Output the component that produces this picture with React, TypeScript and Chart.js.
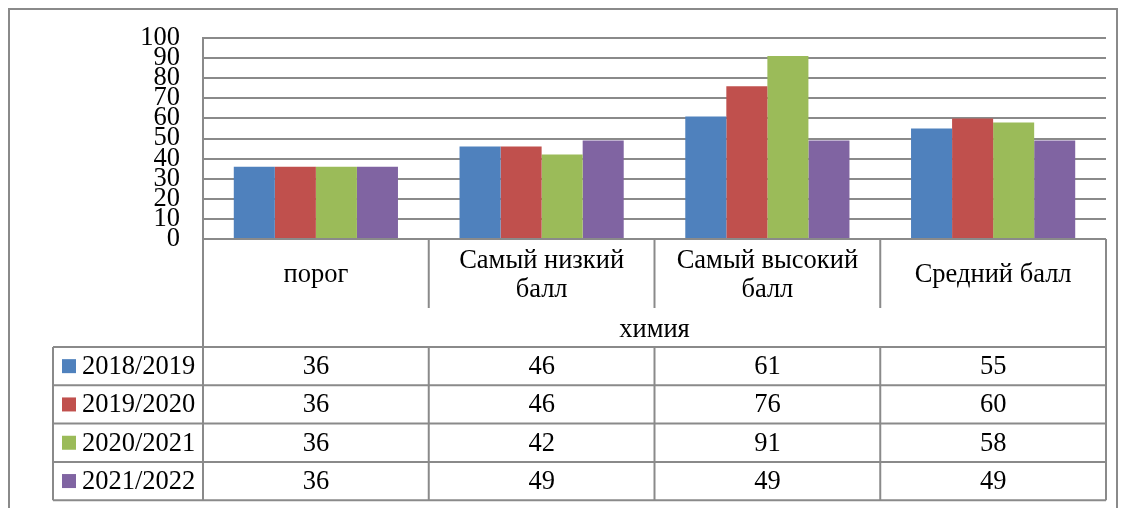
import React, { useEffect, useRef } from "react";
import { Chart, registerables } from "chart.js";

Chart.register(...registerables);

const categories: string[][] = [["порог"], ["Самый низкий", "балл"], ["Самый высокий", "балл"], ["Средний балл"]];
const groupTitle = "химия";
const seriesNames = ["2018/2019", "2019/2020", "2020/2021", "2021/2022"];
const s2018 = [36, 46, 61, 55];
const s2019 = [36, 46, 76, 60];
const s2020 = [36, 42, 91, 58];
const s2021 = [36, 49, 49, 49];
const seriesValues = [s2018, s2019, s2020, s2021];
const seriesColors = ["#4F81BD", "#C0504D", "#9BBB59", "#8064A2"];
const yMin = 0;
const yMax = 100;
const yStep = 10;

const FONT = '"Liberation Serif", "Times New Roman", serif';
const FS = 26.5;
const LINE = "#8a8a8a";

const tablePlugin = {
  id: "dataTable",
  afterDraw(chart: any) {
    const ctx = chart.ctx as CanvasRenderingContext2D;
    const area = chart.chartArea;
    const xs = chart.scales.x;
    const n = categories.length;
    const colW = (area.right - area.left) / n;
    const edges = Array.from({ length: n + 1 }, (_, i) => area.left + i * colW);
    const catBottom = 308;
    const titleBottom = 347;
    const rowH = 38.3;
    const legendLeft = 53;
    const rowsY = seriesNames.map((_, i) => titleBottom + i * rowH);
    const tableBottom = titleBottom + seriesNames.length * rowH;

    ctx.save();
    ctx.strokeStyle = LINE;
    ctx.lineWidth = 2;
    const line = (x1: number, y1: number, x2: number, y2: number) => {
      ctx.beginPath();
      ctx.moveTo(x1, y1);
      ctx.lineTo(x2, y2);
      ctx.stroke();
    };
    ctx.strokeRect(9, 9, 1108, 600);
    line(area.left, area.bottom, area.right, area.bottom);
    line(area.left, area.top, area.left, tableBottom);
    for (let i = 1; i < n; i++) line(edges[i], area.bottom, edges[i], catBottom);
    line(area.right, area.bottom, area.right, tableBottom);
    for (let r = 0; r <= seriesNames.length; r++) {
      const y = titleBottom + r * rowH;
      line(legendLeft, y, area.right, y);
    }
    line(legendLeft, titleBottom, legendLeft, tableBottom);
    for (let i = 1; i < n; i++) line(edges[i], titleBottom, edges[i], tableBottom);

    ctx.fillStyle = "#000";
    ctx.font = `${FS}px ${FONT}`;
    ctx.textAlign = "center";
    ctx.textBaseline = "middle";
    categories.forEach((lines, i) => {
      const cx = xs.getPixelForValue(i);
      const lh = 29.5;
      const mid = (area.bottom + catBottom) / 2 + 2;
      const start = mid - ((lines.length - 1) * lh) / 2;
      lines.forEach((t, k) => ctx.fillText(t, cx, start + k * lh));
    });
    ctx.fillText(groupTitle, (area.left + area.right) / 2, (catBottom + titleBottom) / 2 + 3);

    seriesNames.forEach((name, r) => {
      const cy = rowsY[r] + rowH / 2;
      ctx.fillStyle = seriesColors[r];
      ctx.fillRect(62, cy - 7, 14, 14);
      ctx.fillStyle = "#000";
      ctx.textAlign = "left";
      ctx.fillText(name, 82, cy + 1);
      ctx.textAlign = "center";
      seriesValues[r].forEach((v, i) => {
        ctx.fillText(String(v), xs.getPixelForValue(i), cy + 1);
      });
    });
    ctx.restore();
  },
};

export default function App() {
  const ref = useRef<HTMLCanvasElement>(null);
  useEffect(() => {
    if (!ref.current) return;
    const chart = new Chart(ref.current, {
      type: "bar",
      data: {
        labels: categories,
        datasets: seriesNames.map((name, i) => ({
          label: name,
          data: seriesValues[i],
          backgroundColor: seriesColors[i],
          borderWidth: 0,
          categoryPercentage: 4 / 5.5,
          barPercentage: 1,
        })),
      },
      options: {
        responsive: false,
        animation: false,
        devicePixelRatio: 1,
        layout: { padding: { top: 38, bottom: 269, left: 0, right: 17 } },
        plugins: { legend: { display: false }, tooltip: { enabled: false } },
        scales: {
          x: { display: false },
          y: {
            min: yMin,
            max: yMax,
            afterFit: (s: any) => {
              s.width = 203;
            },
            ticks: {
              stepSize: yStep,
              autoSkip: false,
              color: "#000",
              padding: 23,
              font: { family: FONT, size: FS, lineHeight: 1 },
            },
            grid: { color: LINE, lineWidth: 2, drawTicks: false },
            border: { color: LINE, width: 2 },
          },
        },
      },
      plugins: [tablePlugin],
    });
    return () => chart.destroy();
  }, []);
  return (
    <div style={{ position: "fixed", left: 0, top: 0, width: 1123, height: 508, background: "#fff" }}>
      <canvas ref={ref} width={1123} height={508} />
    </div>
  );
}
